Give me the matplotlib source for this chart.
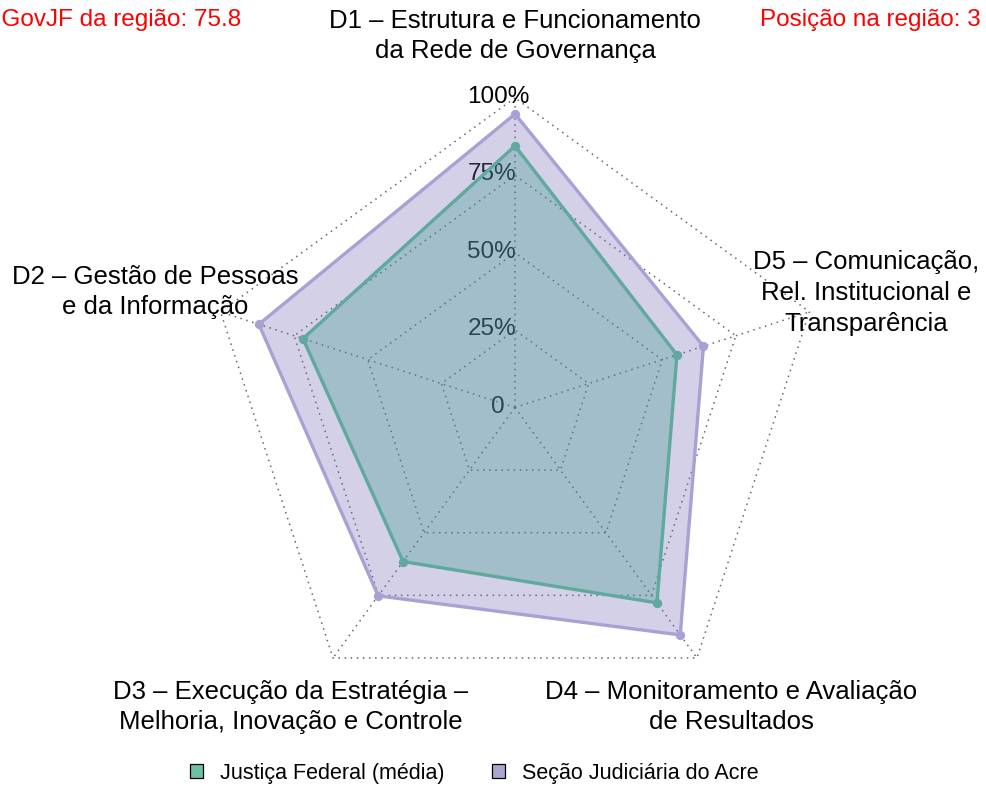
import matplotlib
matplotlib.use("Agg")
import matplotlib.pyplot as plt
from matplotlib.patches import Patch
import numpy as np

plt.rcParams['font.family'] = ['Liberation Sans', 'DejaVu Sans']

# dimensões (sentido anti-horário a partir do topo)
dims = ["D1 – Estrutura e Funcionamento\nda Rede de Governança",
        "D2 – Gestão de Pessoas\ne da Informação",
        "D3 – Execução da Estratégia –\nMelhoria, Inovação e Controle",
        "D4 – Monitoramento e Avaliação\nde Resultados",
        "D5 – Comunicação,\nRel. Institucional e\nTransparência"]
jf_media = [0.845, 0.72, 0.615, 0.78, 0.55]
sj_acre = [0.948, 0.87, 0.752, 0.908, 0.64]
ring_levels = [0.25, 0.5, 0.75, 1.0]
ring_labels = ["25%", "50%", "75%", "100%"]
serie_nomes = ["Justiça Federal (média)", "Seção Judiciária do Acre"]
texto_esq = "iGovJF da região: 75.8"
texto_dir = ["Posição geral: 3", "Posição na região: 3"]

W, H = 986, 788
cx, cy, R = 515, 407.5, 309.6

fig = plt.figure(figsize=(W / 100, H / 100), dpi=100)
ax = fig.add_axes([0, 0, 1, 1])
ax.set_xlim(-cx / R, (W - cx) / R)
ax.set_ylim(-(H - cy) / R, cy / R)
ax.set_aspect('equal')
ax.axis('off')


def px(x, y):
    # pixel -> coordenadas do gráfico
    return (x - cx) / R, (cy - y) / R


ang = np.pi / 2 + np.arange(5) * 2 * np.pi / 5
cosA, sinA = np.cos(ang), np.sin(ang)

grid_kw = dict(color='#666666', lw=1.1, ls=(0, (1, 3.0)), zorder=1)
for r in ring_levels:
    ax.plot(np.append(r * cosA, r * cosA[0]), np.append(r * sinA, r * sinA[0]), **grid_kw)
for c, s in zip(cosA, sinA):
    ax.plot([0, c], [0, s], **grid_kw)

# rótulos do eixo
ax.text(*px(498, 407), "0", ha='center', va='center', fontsize=17.5, zorder=1)
for r, lab in zip(ring_levels, ring_labels):
    xx = -0.075 if r < 1 else -0.055
    ax.text(xx, r + 0.003, lab, ha='center', va='center', fontsize=17.5, zorder=1)

# séries
series = [
    (sj_acre, (0.47, 0.43, 0.71), 0.32, '#a7a2d3'),
    (jf_media, (0.20, 0.59, 0.55), 0.30, '#5fa99f'),
]
for vals, fc, a, lc in series:
    v = np.array(vals)
    xs, ys = v * cosA, v * sinA
    ax.fill(xs, ys, color=fc, alpha=a, lw=0, zorder=2)
for vals, fc, a, lc in series:
    v = np.array(vals)
    xs, ys = v * cosA, v * sinA
    ax.plot(np.append(xs, xs[0]), np.append(ys, ys[0]), color=lc, lw=2.4,
            zorder=3, solid_joinstyle='miter')
    ax.scatter(xs, ys, s=45, color=lc, zorder=4, linewidths=0)

# nomes das dimensões
lab_pos = [(515, 36, 'center'), (155, 292, 'center'), (291, 707, 'center'),
           (731, 707, 'center'), (866, 293, 'center')]
for name, (x, y, ha) in zip(dims, lab_pos):
    ax.text(*px(x, y), name, ha=ha, va='center', fontsize=18.5,
            linespacing=1.35, multialignment='center', zorder=5)

# textos em vermelho
ax.text(*px(241, 20), texto_esq, ha='right', va='center', fontsize=17.5, color='red')
ax.text(*px(800, -12), texto_dir[0], ha='left', va='center', fontsize=17.5, color='red')
ax.text(*px(760, 20), texto_dir[1], ha='left', va='center', fontsize=17.5, color='red')

handles = [Patch(facecolor='#6dbfa6', edgecolor='black', lw=0.9),
           Patch(facecolor='#aaa6d2', edgecolor='black', lw=0.9)]
fig.legend(handles, serie_nomes, loc='center', bbox_to_anchor=(0.481, 0.019),
           ncol=2, frameon=False, fontsize=15.5, handlelength=0.6, handleheight=0.6,
           handletextpad=0.8, columnspacing=2.2)

fig.savefig('out.png', dpi=100)
